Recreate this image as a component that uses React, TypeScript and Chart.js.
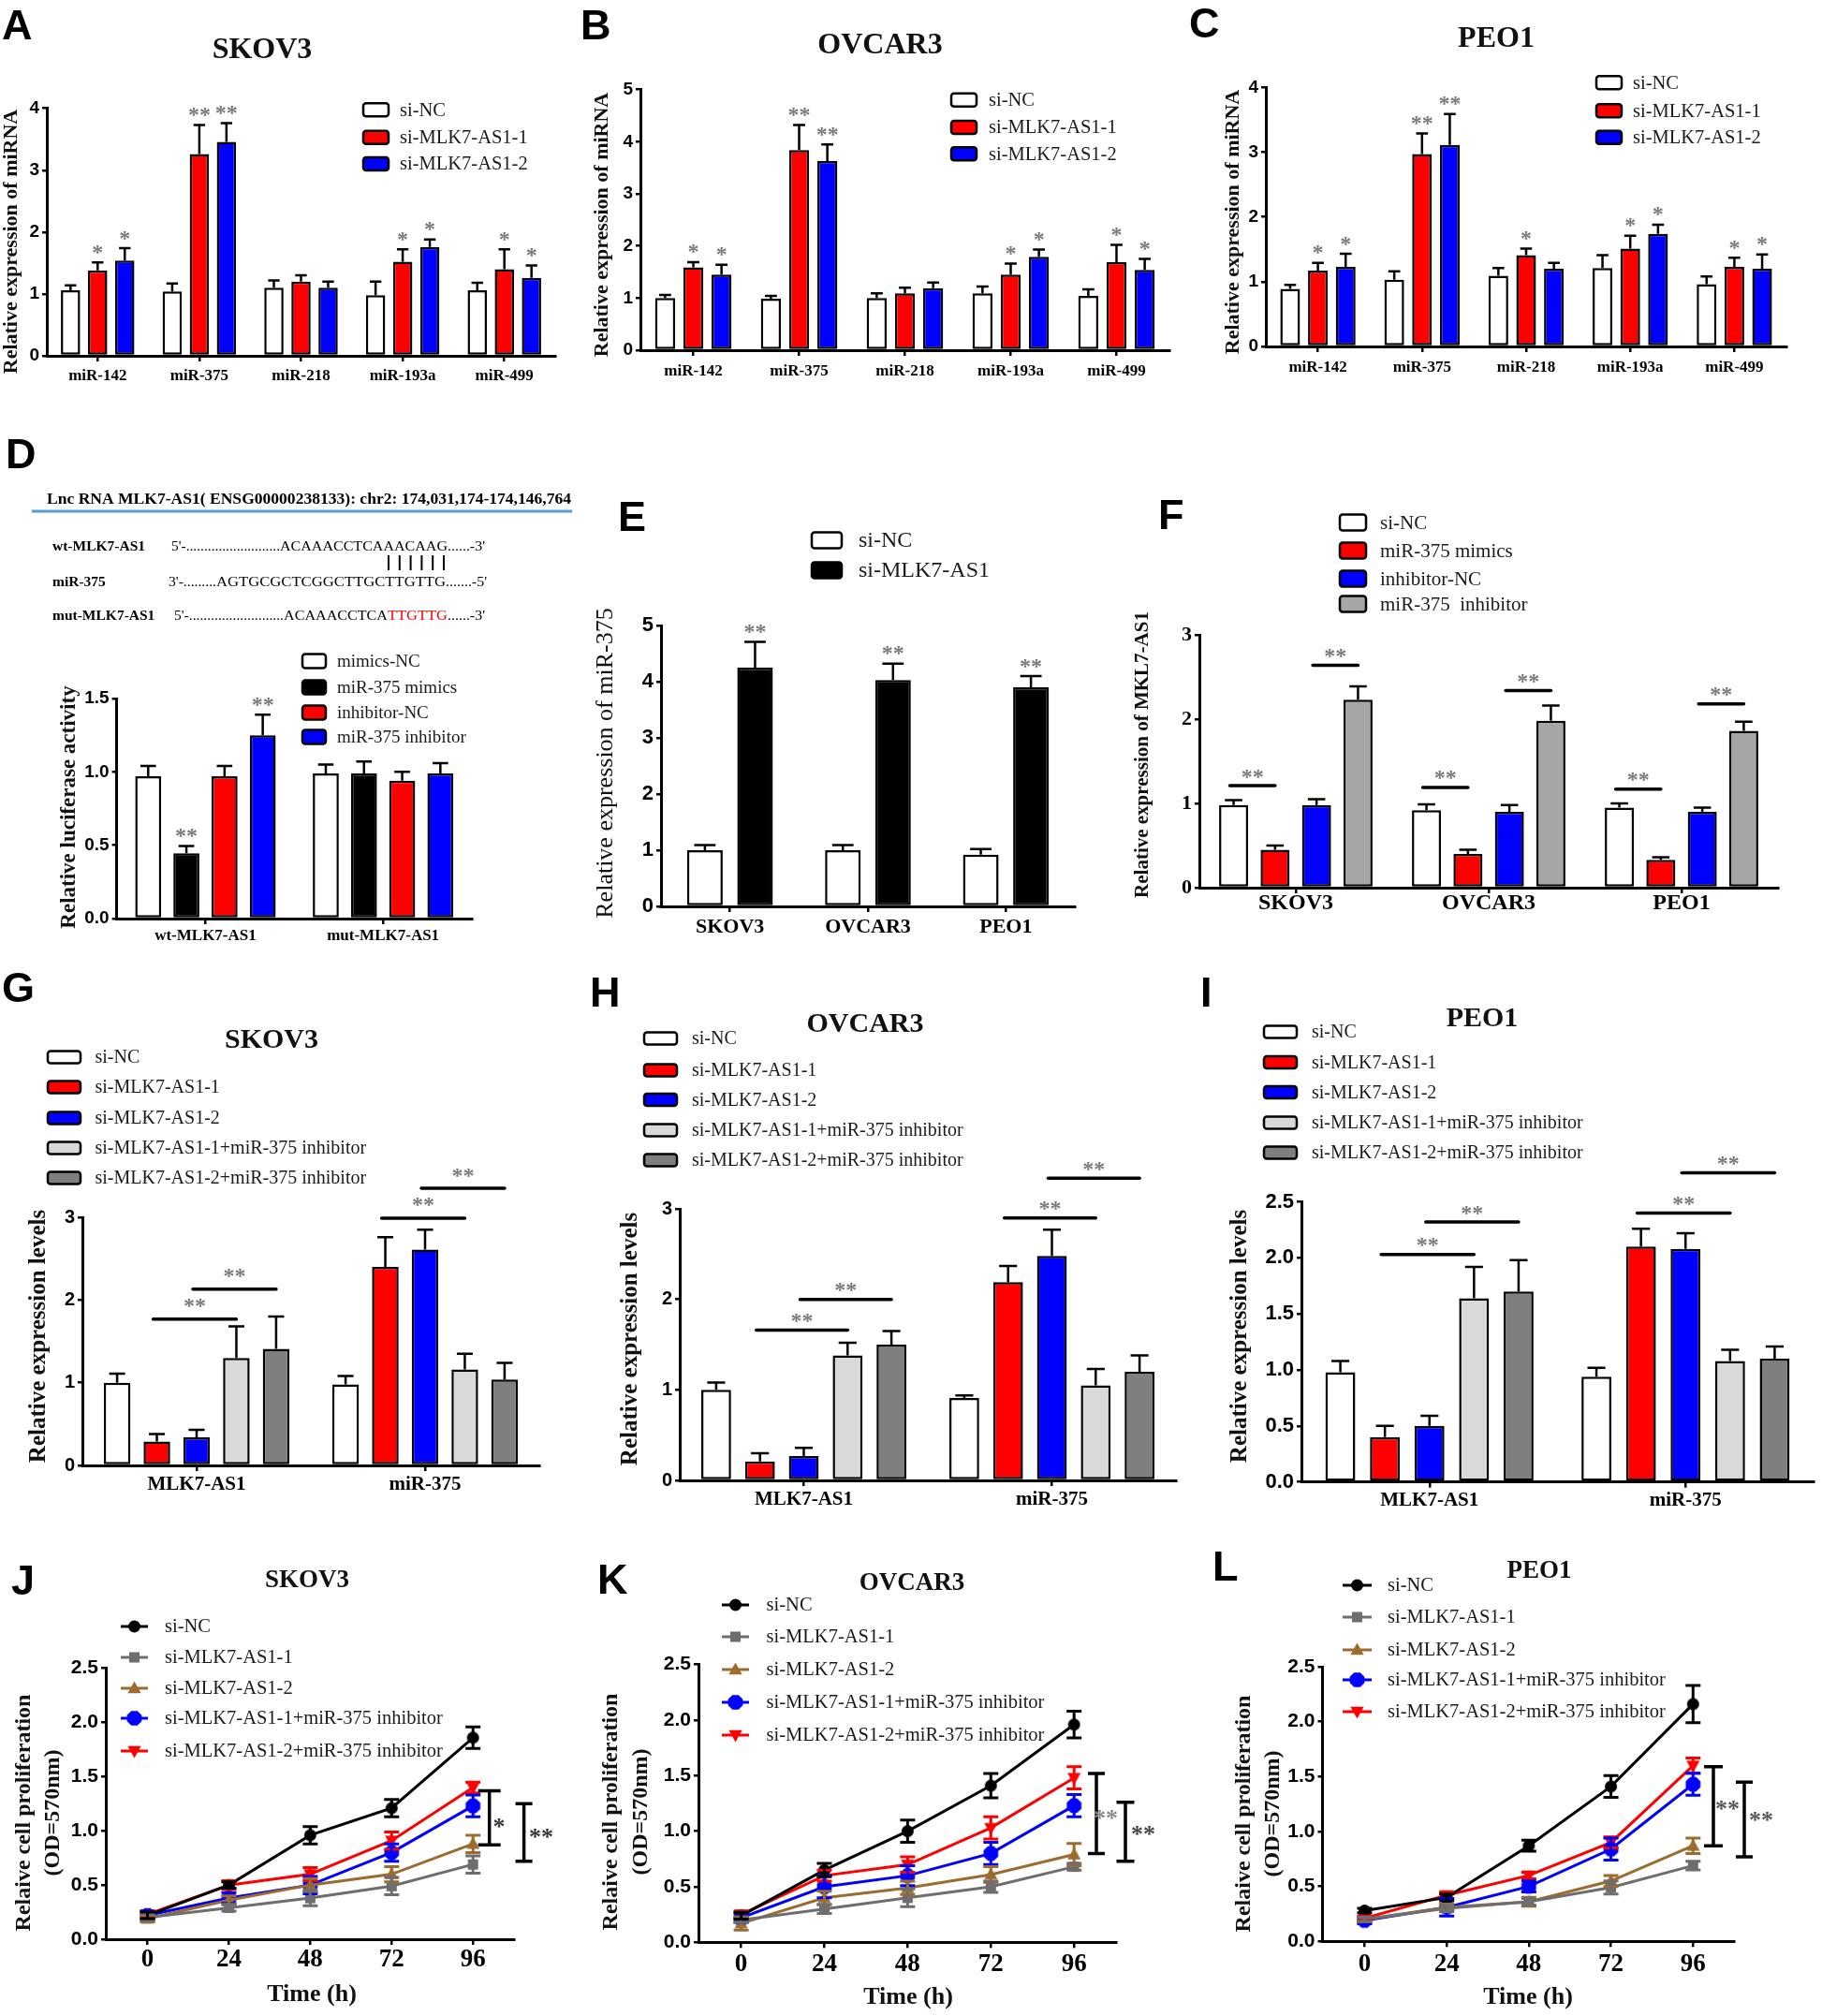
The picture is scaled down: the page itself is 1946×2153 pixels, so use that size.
import React, { useEffect, useRef } from 'react';
import { Chart, registerables } from 'chart.js';

Chart.register(...registerables);

/* =================== DATA =================== */
const miRNAs = ['miR-142', 'miR-375', 'miR-218', 'miR-193a', 'miR-499'];
const siLegend3 = ['si-NC', 'si-MLK7-AS1-1', 'si-MLK7-AS1-2'];
const ticks0to4 = [0, 1, 2, 3, 4];
const ticks0to5 = [0, 1, 2, 3, 4, 5];
const ticks0to3 = [0, 1, 2, 3];
const ticksLuc = [0, 0.5, 1.0, 1.5];
const ticks0to25 = [0, 0.5, 1.0, 1.5, 2.0, 2.5];
const timePoints = [0, 24, 48, 72, 96];

// A  SKOV3
const aSiNC = [1.06, 1.04, 1.1, 0.98, 1.06];
const aSiNCErr = [0.08, 0.13, 0.12, 0.22, 0.12];
const aSi1 = [1.38, 3.26, 1.2, 1.52, 1.4];
const aSi1Err = [0.13, 0.47, 0.1, 0.2, 0.32];
const aSi2 = [1.54, 3.46, 1.1, 1.76, 1.26];
const aSi2Err = [0.2, 0.3, 0.1, 0.12, 0.2];
const aSi1Stars = ['*', '**', '', '*', '*'];
const aSi2Stars = ['*', '**', '', '*', '*'];
// B  OVCAR3
const bSiNC = [1.0, 0.99, 1.0, 1.09, 1.04];
const bSiNCErr = [0.06, 0.05, 0.09, 0.13, 0.13];
const bSi1 = [1.59, 3.84, 1.09, 1.45, 1.69];
const bSi1Err = [0.1, 0.48, 0.11, 0.21, 0.33];
const bSi2 = [1.45, 3.63, 1.19, 1.79, 1.54];
const bSi2Err = [0.19, 0.32, 0.11, 0.14, 0.21];
const bSi1Stars = ['*', '**', '', '*', '*'];
const bSi2Stars = ['*', '**', '', '*', '*'];
// C  PEO1
const cSiNC = [0.89, 1.03, 1.09, 1.21, 0.96];
const cSiNCErr = [0.06, 0.13, 0.12, 0.2, 0.12];
const cSi1 = [1.17, 2.97, 1.41, 1.51, 1.23];
const cSi1Err = [0.12, 0.32, 0.1, 0.2, 0.14];
const cSi2 = [1.23, 3.11, 1.2, 1.74, 1.2];
const cSi2Err = [0.2, 0.48, 0.09, 0.14, 0.22];
const cSi1Stars = ['*', '**', '*', '*', '*'];
const cSi2Stars = ['*', '**', '', '*', '*'];

// D  luciferase
const dHeader = 'Lnc RNA MLK7-AS1( ENSG00000238133): chr2: 174,031,174-174,146,764';
const seqRowLabels = ['wt-MLK7-AS1', 'miR-375', 'mut-MLK7-AS1'];
const wtSeqParts = ["5'-..........................", 'ACAAACCTCAAACAAG', "......-3'"];
const mirSeqParts = ["3'-.........", 'AGTGCGCTCGGCTTGCTTGTTG', ".......-5'"];
const mutSeqParts = ["5'-..........................", 'ACAAACCTCA', 'TTGTTG', "......-3'"];
const lucConstructs = ['wt-MLK7-AS1', 'mut-MLK7-AS1'];
const lucLegend = ['mimics-NC', 'miR-375 mimics', 'inhibitor-NC', 'miR-375 inhibitor'];
const dMimicsNC = [0.97, 0.99];
const dMimicsNCErr = [0.07, 0.06];
const dMimics = [0.445, 0.99];
const dMimicsErr = [0.05, 0.08];
const dInhNC = [0.97, 0.94];
const dInhNCErr = [0.07, 0.06];
const dInh = [1.25, 0.99];
const dInhErr = [0.14, 0.07];
const dMimicsStars = ['**', ''];
const dInhStars = ['**', ''];

// E
const cellLines = ['SKOV3', 'OVCAR3', 'PEO1'];
const eLegend = ['si-NC', 'si-MLK7-AS1'];
const eSiNC = [1.0, 1.0, 0.92];
const eSiNCErr = [0.09, 0.09, 0.1];
const eSi = [4.25, 4.03, 3.9];
const eSiErr = [0.46, 0.29, 0.2];
const eSiStars = ['**', '**', '**'];

// F
const fLegend = ['si-NC', 'miR-375 mimics', 'inhibitor-NC', 'miR-375  inhibitor'];
const fSiNC = [0.98, 0.92, 0.95];
const fSiNCErr = [0.06, 0.07, 0.05];
const fMimics = [0.45, 0.4, 0.33];
const fMimicsErr = [0.05, 0.05, 0.03];
const fInhNC = [0.98, 0.9, 0.9];
const fInhNCErr = [0.07, 0.08, 0.05];
const fInh = [2.23, 1.98, 1.86];
const fInhErr = [0.16, 0.18, 0.11];
const fSigLow = [1.21, 1.19, 1.17];
const fSigHigh = [2.64, 2.34, 2.18];

// G / H / I rescue
const targets = ['MLK7-AS1', 'miR-375'];
const rescueLegend = ['si-NC', 'si-MLK7-AS1-1', 'si-MLK7-AS1-2', 'si-MLK7-AS1-1+miR-375 inhibitor', 'si-MLK7-AS1-2+miR-375 inhibitor'];
const gSiNC = [1.0, 0.98];
const gSiNCErr = [0.11, 0.1];
const gSi1 = [0.29, 2.4];
const gSi1Err = [0.09, 0.36];
const gSi2 = [0.34, 2.61];
const gSi2Err = [0.09, 0.24];
const gSi1Inh = [1.3, 1.16];
const gSi1InhErr = [0.38, 0.19];
const gSi2Inh = [1.41, 1.04];
const gSi2InhErr = [0.39, 0.2];
const gSigLevels = [1.77, 2.13, 2.99, 3.35];

const hSiNC = [1.0, 0.91];
const hSiNCErr = [0.08, 0.03];
const hSi1 = [0.21, 2.19];
const hSi1Err = [0.09, 0.18];
const hSi2 = [0.27, 2.48];
const hSi2Err = [0.09, 0.29];
const hSi1Inh = [1.38, 1.05];
const hSi1InhErr = [0.14, 0.18];
const hSi2Inh = [1.5, 1.2];
const hSi2InhErr = [0.15, 0.18];
const hSigLevels = [1.66, 2.0, 2.9, 3.34];

const iSiNC = [0.98, 0.94];
const iSiNCErr = [0.1, 0.08];
const iSi1 = [0.4, 2.1];
const iSi1Err = [0.1, 0.16];
const iSi2 = [0.5, 2.08];
const iSi2Err = [0.09, 0.14];
const iSi1Inh = [1.64, 1.08];
const iSi1InhErr = [0.28, 0.1];
const iSi2Inh = [1.7, 1.1];
const iSi2InhErr = [0.28, 0.11];
const iSigLevels = [2.03, 2.32, 2.4, 2.76];

// J / K / L proliferation
const lineLegend = ['si-NC', 'si-MLK7-AS1-1', 'si-MLK7-AS1-2', 'si-MLK7-AS1-1+miR-375 inhibitor', 'si-MLK7-AS1-2+miR-375 inhibitor'];
const jSiNC = [0.22, 0.5, 0.96, 1.21, 1.86];
const jSiNCErr = [0.03, 0.03, 0.08, 0.08, 0.1];
const jSi1 = [0.2, 0.29, 0.38, 0.49, 0.69];
const jSi1Err = [0.03, 0.03, 0.07, 0.08, 0.08];
const jSi2 = [0.19, 0.36, 0.5, 0.6, 0.88];
const jSi2Err = [0.03, 0.04, 0.06, 0.07, 0.08];
const jSi1Inh = [0.22, 0.38, 0.5, 0.8, 1.23];
const jSi1InhErr = [0.04, 0.05, 0.08, 0.08, 0.1];
const jSi2Inh = [0.23, 0.5, 0.6, 0.91, 1.4];
const jSi2InhErr = [0.03, 0.04, 0.06, 0.08, 0.05];
const jBrackets = [[1.37, 0.87], [1.25, 0.72]];
const jBracketLabels = ['*', '**'];

const kSiNC = [0.24, 0.65, 1.0, 1.41, 1.96];
const kSiNCErr = [0.03, 0.06, 0.1, 0.11, 0.12];
const kSi1 = [0.2, 0.3, 0.4, 0.5, 0.68];
const kSi1Err = [0.02, 0.04, 0.08, 0.05, 0.03];
const kSi2 = [0.17, 0.4, 0.49, 0.61, 0.79];
const kSi2Err = [0.06, 0.06, 0.06, 0.07, 0.1];
const kSi1Inh = [0.22, 0.5, 0.6, 0.8, 1.23];
const kSi1InhErr = [0.04, 0.1, 0.09, 0.1, 0.1];
const kSi2Inh = [0.25, 0.6, 0.7, 1.03, 1.48];
const kSi2InhErr = [0.03, 0.05, 0.07, 0.1, 0.1];
const kBrackets = [[1.52, 0.8], [1.26, 0.73]];
const kBracketLabels = ['**', '**'];

const lSiNC = [0.28, 0.4, 0.87, 1.41, 2.16];
const lSiNCErr = [0.02, 0.03, 0.05, 0.1, 0.17];
const lSi1 = [0.2, 0.3, 0.36, 0.49, 0.69];
const lSi1Err = [0.02, 0.03, 0.03, 0.06, 0.04];
const lSi2 = [0.2, 0.31, 0.36, 0.55, 0.87];
const lSi2Err = [0.02, 0.03, 0.04, 0.05, 0.07];
const lSi1Inh = [0.19, 0.31, 0.5, 0.84, 1.43];
const lSi1InhErr = [0.03, 0.08, 0.05, 0.1, 0.1];
const lSi2Inh = [0.21, 0.42, 0.6, 0.9, 1.6];
const lSi2InhErr = [0.02, 0.03, 0.03, 0.05, 0.07];
const lBrackets = [[1.59, 0.87], [1.45, 0.77]];
const lBracketLabels = ['**', '**'];

/* =================== STYLE =================== */
const SERIF = '"Liberation Serif", "Times New Roman", Times, serif';
const SANS = '"Liberation Sans", Arial, Helvetica, sans-serif';
const NARROW = '"Liberation Sans Narrow", "Arial Narrow", "Liberation Sans", Arial, sans-serif';
const WHITE = '#ffffff';
const RED = '#ff0000';
const BLUE = '#0000ff';
const BLACK = '#000000';
const MIDGRAY = '#a6a6a6';
const LIGHTGRAY = '#d9d9d9';
const DARKGRAY = '#7f7f7f';
const LINEGRAY = '#6e6e6e';
const BROWN = '#9c6b2e';
const STAR_GRAY = '#7a7a7a';
const TEXT = '#1a1a1a';

Chart.defaults.font.family = SERIF;

const css = (f: any) => `${f.weight || 'normal'} ${f.size}px ${f.family}`;

function glyphText(ctx: any, s: string, x: number, cy: number, font: string, color: string, align = 'center') {
  ctx.save();
  ctx.font = font;
  ctx.fillStyle = color;
  ctx.textAlign = align;
  ctx.textBaseline = 'alphabetic';
  const m = ctx.measureText(s);
  ctx.fillText(s, x, cy + (m.actualBoundingBoxAscent - m.actualBoundingBoxDescent) / 2);
  ctx.restore();
}

function vText(ctx: any, s: string, cx: number, cy: number, font: string, color: string) {
  ctx.save();
  ctx.translate(cx, cy);
  ctx.rotate(-Math.PI / 2);
  ctx.font = font;
  ctx.fillStyle = color;
  ctx.textAlign = 'center';
  ctx.textBaseline = 'middle';
  ctx.fillText(s, 0, 0);
  ctx.restore();
}

function fitText(ctx: any, s: string, x: number, y: number, w: number, font: string, color: string) {
  ctx.save();
  ctx.font = font;
  ctx.fillStyle = color;
  ctx.textAlign = 'left';
  ctx.textBaseline = 'alphabetic';
  const nat = ctx.measureText(s).width || 1;
  ctx.translate(x, y);
  ctx.scale(w / nat, 1);
  ctx.fillText(s, 0, 0);
  ctx.restore();
}

function markerPath(ctx: any, style: string, x: number, y: number, r: number) {
  ctx.beginPath();
  if (style === 'circle') ctx.arc(x, y, r, 0, Math.PI * 2);
  else if (style === 'square') ctx.rect(x - r * 0.85, y - r * 0.85, r * 1.7, r * 1.7);
  else if (style === 'tri') {
    ctx.moveTo(x, y - r);
    ctx.lineTo(x + r * 0.95, y + r * 0.7);
    ctx.lineTo(x - r * 0.95, y + r * 0.7);
    ctx.closePath();
  } else if (style === 'triDown') {
    ctx.moveTo(x, y + r);
    ctx.lineTo(x + r * 0.95, y - r * 0.7);
    ctx.lineTo(x - r * 0.95, y - r * 0.7);
    ctx.closePath();
  } else {
    for (let k = 0; k < 8; k++) {
      const a = Math.PI / 8 + (k * Math.PI) / 4;
      const px = x + r * Math.cos(a);
      const py = y + r * Math.sin(a);
      if (k === 0) ctx.moveTo(px, py);
      else ctx.lineTo(px, py);
    }
    ctx.closePath();
  }
}

const MARKER_R: any = { circle: 6.5, square: 6.5, tri: 7.5, oct: 8.5, triDown: 7.5 };

function makeMarker(style: string, color: string) {
  const r = MARKER_R[style];
  const c = document.createElement('canvas');
  const size = Math.ceil(2 * r + 2);
  c.width = size;
  c.height = size;
  const ctx = c.getContext('2d') as any;
  ctx.fillStyle = color;
  markerPath(ctx, style, size / 2, size / 2, r);
  ctx.fill();
  return c;
}

function drawCommon(ctx: any, s: any, X: any, Y: any) {
  if (s.letter) {
    ctx.save();
    ctx.font = `bold 45px ${SANS}`;
    ctx.fillStyle = '#000';
    ctx.textAlign = 'left';
    ctx.textBaseline = 'alphabetic';
    ctx.fillText(s.letter[0], X(s.letter[1]), Y(s.letter[2]));
    ctx.restore();
  }
  if (s.title) {
    ctx.save();
    ctx.font = `bold ${s.title[3]}px ${SERIF}`;
    ctx.fillStyle = '#111';
    ctx.textAlign = 'center';
    ctx.textBaseline = 'alphabetic';
    ctx.fillText(s.title[0], X(s.title[1]), Y(s.title[2]));
    ctx.restore();
  }
  if (s.ytitle) {
    s.ytitle.lines.forEach((ln: string, i: number) => vText(ctx, ln, X(s.ytitle.xs[i]), Y(s.ytitle.y), css(s.ytitle.font), '#111'));
  }
  if (s.xtitle) {
    ctx.save();
    ctx.font = `bold ${s.xtitle[3]}px ${SERIF}`;
    ctx.fillStyle = '#111';
    ctx.textAlign = 'center';
    ctx.textBaseline = 'middle';
    ctx.fillText(s.xtitle[0], X(s.xtitle[1]), Y(s.xtitle[2]));
    ctx.restore();
  }
}

// axis boxes take all of the room between the canvas edge and the plot area,
// so that Chart.js' own tick labels are not clipped away
const EDGE = 2;
function yAxisWidth(s: any) {
  return s.area.l - s.rect.left - EDGE;
}
function xAxisHeight(s: any) {
  return s.rect.top + s.rect.height - s.area.b - EDGE;
}

function yScale(s: any) {
  const ticks = s.yTicks;
  const w = yAxisWidth(s);
  return {
    type: 'linear',
    min: ticks[0],
    max: ticks[ticks.length - 1],
    afterBuildTicks: (sc: any) => {
      sc.ticks = ticks.map((v: number) => ({ value: v }));
    },
    afterFit: (sc: any) => {
      sc.width = w;
      sc.paddingTop = 0;
      sc.paddingBottom = 0;
      sc.paddingLeft = 0;
      sc.paddingRight = 0;
    },
    grid: { display: true, drawOnChartArea: false, drawTicks: true, tickLength: 5, color: '#000', lineWidth: 2.5 },
    border: { display: true, color: '#000', width: 3 },
    ticks: { color: '#000', font: s.yTickFont, padding: 3, callback: (v: any) => Number(v).toFixed(s.yDec) },
  };
}

function xAxisCommon(s: any, pad: number) {
  const h = xAxisHeight(s);
  return {
    afterFit: (sc: any) => {
      sc.height = h;
      sc.paddingTop = 0;
      sc.paddingBottom = 0;
      sc.paddingLeft = 0;
      sc.paddingRight = 0;
    },
    grid: { display: true, offset: false, drawOnChartArea: false, drawTicks: true, tickLength: 6, color: '#000', lineWidth: 2.5 },
    border: { display: true, color: '#000', width: 3 },
    ticks: { color: '#000', font: s.xFont, padding: pad, maxRotation: 0, minRotation: 0, autoSkip: false },
  };
}

function paddingFor(rect: any, area: any) {
  return {
    left: EDGE,
    top: area.t - rect.top,
    right: rect.left + rect.width - area.r,
    bottom: EDGE,
  };
}

const STAR_FONT = `bold 24px ${SERIF}`;

function barChart(canvas: HTMLCanvasElement, s: any) {
  const { rect, area } = s;
  const X = (x: number) => x - rect.left;
  const Y = (y: number) => y - rect.top;
  const xPad = s.xLabelY - area.b - 6 - 0.6 * s.xFont.size;
  const plugin = {
    id: 'decoBar',
    afterDraw(chart: any) {
      const ctx = chart.ctx;
      const ys = chart.scales.y;
      ctx.save();
      chart.data.datasets.forEach((ds: any, i: number) => {
        const meta = chart.getDatasetMeta(i);
        meta.data.forEach((el: any, j: number) => {
          const yt = ys.getPixelForValue(ds.data[j] + ds.errs[j]);
          const hw = el.width * 0.3;
          ctx.strokeStyle = '#000';
          ctx.lineWidth = 2.5;
          ctx.beginPath();
          ctx.moveTo(el.x, el.y);
          ctx.lineTo(el.x, yt);
          ctx.moveTo(el.x - hw, yt);
          ctx.lineTo(el.x + hw, yt);
          ctx.stroke();
          const st = ds.stars && ds.stars[j];
          if (st) glyphText(ctx, st, el.x, yt - 14, STAR_FONT, STAR_GRAY);
        });
      });
      (s.sig || []).forEach((g: any) => {
        const e1 = chart.getDatasetMeta(g.a).data[g.cat];
        const e2 = chart.getDatasetMeta(g.b).data[g.cat];
        const y = ys.getPixelForValue(g.v);
        ctx.strokeStyle = '#000';
        ctx.lineWidth = 3.5;
        ctx.lineCap = 'round';
        ctx.beginPath();
        ctx.moveTo(e1.x - 4, y);
        ctx.lineTo(e2.x, y);
        ctx.stroke();
        glyphText(ctx, g.label, (e1.x + e2.x) / 2 - 2, y - s.sigGap, STAR_FONT, STAR_GRAY);
      });
      const L = s.legend;
      s.series.forEach((se: any, i: number) => {
        const cy = Y(L.rows[i]);
        ctx.fillStyle = se.color;
        ctx.strokeStyle = '#000';
        ctx.lineWidth = 2.5;
        ctx.beginPath();
        if (ctx.roundRect) ctx.roundRect(X(L.x), cy - L.h / 2, L.w, L.h, 3);
        else ctx.rect(X(L.x), cy - L.h / 2, L.w, L.h);
        ctx.fill();
        ctx.stroke();
        ctx.font = css(L.font);
        ctx.fillStyle = TEXT;
        ctx.textAlign = 'left';
        ctx.textBaseline = 'middle';
        ctx.fillText(se.label, X(L.textX), cy + 1);
      });
      drawCommon(ctx, s, X, Y);
      if (s.extra) s.extra(ctx, X, Y);
      ctx.restore();
    },
  };
  return new Chart(canvas, {
    type: 'bar',
    data: {
      labels: s.labels,
      datasets: s.series.map((se: any) => ({
        label: se.label,
        data: se.data,
        errs: se.errs,
        stars: se.stars,
        backgroundColor: se.color,
        borderColor: '#000',
        borderWidth: 2.5,
        borderSkipped: false,
        categoryPercentage: s.catPct,
        barPercentage: s.barPct,
      })),
    },
    options: {
      responsive: false,
      animation: false,
      devicePixelRatio: 1,
      events: [],
      layout: { padding: paddingFor(rect, area) },
      plugins: { legend: { display: false }, tooltip: { enabled: false }, title: { display: false } },
      scales: {
        x: { type: 'category', offset: true, ...xAxisCommon(s, xPad) },
        y: yScale(s),
      },
    } as any,
    plugins: [plugin],
  } as any);
}

function lineChart(canvas: HTMLCanvasElement, s: any) {
  const { rect, area } = s;
  const X = (x: number) => x - rect.left;
  const Y = (y: number) => y - rect.top;
  const xPad = s.xLabelY - area.b - 6 - 0.6 * s.xFont.size;
  const plugin = {
    id: 'decoLine',
    afterDatasetsDraw(chart: any) {
      const ctx = chart.ctx;
      const xs = chart.scales.x;
      const ys = chart.scales.y;
      ctx.save();
      for (let i = chart.data.datasets.length - 1; i >= 0; i--) {
        const ds = chart.data.datasets[i];
        ctx.strokeStyle = ds.borderColor;
        ctx.lineWidth = 3;
        ds.data.forEach((p: any, j: number) => {
          const x = xs.getPixelForValue(p.x);
          const yt = ys.getPixelForValue(p.y + ds.errs[j]);
          const yb = ys.getPixelForValue(p.y - ds.errs[j]);
          ctx.beginPath();
          ctx.moveTo(x, yt);
          ctx.lineTo(x, yb);
          ctx.moveTo(x - 8, yt);
          ctx.lineTo(x + 8, yt);
          ctx.moveTo(x - 8, yb);
          ctx.lineTo(x + 8, yb);
          ctx.stroke();
        });
      }
      ctx.restore();
    },
    afterDraw(chart: any) {
      const ctx = chart.ctx;
      const ys = chart.scales.y;
      ctx.save();
      const L = s.legend;
      s.series.forEach((se: any, i: number) => {
        const cy = Y(L.rows[i]);
        ctx.strokeStyle = se.color;
        ctx.lineWidth = 3;
        ctx.beginPath();
        ctx.moveTo(X(L.x1), cy);
        ctx.lineTo(X(L.x2), cy);
        ctx.stroke();
        ctx.fillStyle = se.color;
        markerPath(ctx, se.marker, (X(L.x1) + X(L.x2)) / 2, cy, MARKER_R[se.marker]);
        ctx.fill();
        ctx.font = css(L.font);
        ctx.fillStyle = TEXT;
        ctx.textAlign = 'left';
        ctx.textBaseline = 'middle';
        ctx.fillText(se.label, X(L.textX), cy + 1);
      });
      s.brackets.forEach((b: any) => {
        const x = X(b.x);
        const yt = ys.getPixelForValue(b.v[0]);
        const yb = ys.getPixelForValue(b.v[1]);
        ctx.strokeStyle = '#000';
        ctx.lineWidth = 3.5;
        ctx.beginPath();
        ctx.moveTo(x, yt);
        ctx.lineTo(x, yb);
        ctx.moveTo(x - b.hw, yt);
        ctx.lineTo(x + b.hw, yt);
        ctx.moveTo(x - b.hw, yb);
        ctx.lineTo(x + b.hw, yb);
        ctx.stroke();
        glyphText(ctx, b.label, X(b.lx), Y(b.ly), `bold 26px ${SERIF}`, b.color);
      });
      drawCommon(ctx, s, X, Y);
      ctx.restore();
    },
  };
  return new Chart(canvas, {
    type: 'line',
    data: {
      datasets: s.series.map((se: any) => ({
        label: se.label,
        data: se.data.map((v: number, i: number) => ({ x: timePoints[i], y: v })),
        errs: se.errs,
        borderColor: se.color,
        backgroundColor: se.color,
        borderWidth: 3,
        tension: 0,
        fill: false,
        pointStyle: makeMarker(se.marker, se.color),
        pointRadius: 7,
        pointHoverRadius: 7,
      })),
    },
    options: {
      responsive: false,
      animation: false,
      devicePixelRatio: 1,
      events: [],
      layout: { padding: paddingFor(rect, area) },
      plugins: { legend: { display: false }, tooltip: { enabled: false }, title: { display: false } },
      scales: {
        x: {
          type: 'linear',
          min: s.xMin,
          max: s.xMax,
          afterBuildTicks: (sc: any) => {
            sc.ticks = timePoints.map((v) => ({ value: v }));
          },
          ...xAxisCommon(s, xPad),
        },
        y: yScale(s),
      },
    } as any,
    plugins: [plugin],
  } as any);
}

function drawDText(ctx: any, X: any, Y: any) {
  ctx.save();
  fitText(ctx, dHeader, X(50), Y(538), 560, `bold 17px ${SERIF}`, '#000');
  ctx.strokeStyle = '#5b9bd5';
  ctx.lineWidth = 3;
  ctx.beginPath();
  ctx.moveTo(X(34), Y(546));
  ctx.lineTo(X(611), Y(546));
  ctx.stroke();
  const rowsY = [588, 626, 662];
  seqRowLabels.forEach((lb, i) => {
    ctx.font = `bold 15.5px ${SERIF}`;
    ctx.fillStyle = '#000';
    ctx.textAlign = 'left';
    ctx.textBaseline = 'alphabetic';
    ctx.fillText(lb, X(56), Y(rowsY[i]));
  });
  const rows = [
    { parts: wtSeqParts, xs: [183, 299, 478, 518], colors: ['#000', '#000', '#000'] },
    { parts: mirSeqParts, xs: [180, 231, 476, 520], colors: ['#000', '#000', '#000'] },
    { parts: mutSeqParts, xs: [186, 303, 414, 478, 518], colors: ['#000', '#000', '#ff0000', '#000'] },
  ];
  rows.forEach((r, i) =>
    r.parts.forEach((p, k) => fitText(ctx, p, X(r.xs[k]), Y(rowsY[i]), r.xs[k + 1] - r.xs[k], `15.5px ${SERIF}`, r.colors[k]))
  );
  ctx.strokeStyle = '#000';
  ctx.lineWidth = 2;
  for (let k = 0; k < 6; k++) {
    const x = X(415 + k * 11.8);
    ctx.beginPath();
    ctx.moveTo(x, Y(593));
    ctx.lineTo(x, Y(609));
    ctx.stroke();
  }
  ctx.restore();
}

/* =================== PANEL SPECS =================== */
const tickSans = (size: number) => ({ family: NARROW, size, weight: 'bold' });
const serifB = (size: number) => ({ family: SERIF, size, weight: 'bold' });
const serifN = (size: number) => ({ family: SERIF, size, weight: 'normal' });

const abcCommon = { yDec: 0, yTickFont: tickSans(19), xFont: serifB(17), catPct: 0.8, barPct: 0.71 };

const specA = {
  ...abcCommon,
  rect: { left: 0, top: 0, width: 625, height: 430 },
  area: { l: 50, t: 115.7, r: 593, b: 380 },
  labels: miRNAs,
  series: [
    { label: siLegend3[0], data: aSiNC, errs: aSiNCErr, color: WHITE },
    { label: siLegend3[1], data: aSi1, errs: aSi1Err, color: RED, stars: aSi1Stars },
    { label: siLegend3[2], data: aSi2, errs: aSi2Err, color: BLUE, stars: aSi2Stars },
  ],
  yTicks: ticks0to4,
  xLabelY: 402,
  legend: { x: 388, w: 27, h: 14, textX: 427, rows: [117.3, 146.7, 175], font: serifN(20.5) },
  letter: ['A', 2, 42],
  title: ['SKOV3', 280, 62, 32],
  ytitle: { lines: ['Relative expression of miRNA'], xs: [12], y: 258, font: serifB(22) },
};

const specB = {
  ...abcCommon,
  rect: { left: 615, top: 0, width: 655, height: 430 },
  area: { l: 684, t: 95.7, r: 1249, b: 374 },
  labels: miRNAs,
  series: [
    { label: siLegend3[0], data: bSiNC, errs: bSiNCErr, color: WHITE },
    { label: siLegend3[1], data: bSi1, errs: bSi1Err, color: RED, stars: bSi1Stars },
    { label: siLegend3[2], data: bSi2, errs: bSi2Err, color: BLUE, stars: bSi2Stars },
  ],
  yTicks: ticks0to5,
  xLabelY: 397,
  legend: { x: 1016, w: 27, h: 14, textX: 1056, rows: [106.7, 136, 164.3], font: serifN(20.5) },
  letter: ['B', 620, 42],
  title: ['OVCAR3', 940, 57, 32],
  ytitle: { lines: ['Relative expression of miRNA'], xs: [643], y: 240, font: serifB(22) },
};

const specC = {
  ...abcCommon,
  rect: { left: 1265, top: 0, width: 681, height: 430 },
  area: { l: 1352, t: 93.3, r: 1908, b: 370 },
  labels: miRNAs,
  series: [
    { label: siLegend3[0], data: cSiNC, errs: cSiNCErr, color: WHITE },
    { label: siLegend3[1], data: cSi1, errs: cSi1Err, color: RED, stars: cSi1Stars },
    { label: siLegend3[2], data: cSi2, errs: cSi2Err, color: BLUE, stars: cSi2Stars },
  ],
  yTicks: ticks0to4,
  xLabelY: 393,
  legend: { x: 1705, w: 27, h: 14, textX: 1744, rows: [88.3, 118.3, 146.7], font: serifN(20.5) },
  letter: ['C', 1270, 40],
  title: ['PEO1', 1598, 50, 32],
  ytitle: { lines: ['Relative expression of miRNA'], xs: [1317], y: 237, font: serifB(22) },
};

const specD = {
  rect: { left: 0, top: 450, width: 620, height: 570 },
  area: { l: 124.6, t: 746, r: 504, b: 981 },
  labels: lucConstructs,
  series: [
    { label: lucLegend[0], data: dMimicsNC, errs: dMimicsNCErr, color: WHITE },
    { label: lucLegend[1], data: dMimics, errs: dMimicsErr, color: BLACK, stars: dMimicsStars },
    { label: lucLegend[2], data: dInhNC, errs: dInhNCErr, color: RED },
    { label: lucLegend[3], data: dInh, errs: dInhErr, color: BLUE, stars: dInhStars },
  ],
  yTicks: ticksLuc,
  yDec: 1,
  yTickFont: tickSans(19),
  xFont: serifB(17),
  xLabelY: 1000,
  catPct: 0.86,
  barPct: 0.68,
  legend: { x: 323, w: 25, h: 15, textX: 360, rows: [706, 734, 761, 787], font: serifN(19) },
  letter: ['D', 6, 500],
  ytitle: { lines: ['Relative luciferase activity'], xs: [74], y: 862, font: serifB(23) },
  extra: drawDText,
};

const specE = {
  rect: { left: 620, top: 520, width: 590, height: 490 },
  area: { l: 706, t: 668, r: 1148, b: 968 },
  labels: cellLines,
  series: [
    { label: eLegend[0], data: eSiNC, errs: eSiNCErr, color: WHITE },
    { label: eLegend[1], data: eSi, errs: eSiErr, color: BLACK, stars: eSiStars },
  ],
  yTicks: ticks0to5,
  yDec: 0,
  yTickFont: tickSans(22),
  xFont: serifB(22),
  xLabelY: 990,
  catPct: 0.727,
  barPct: 0.71,
  legend: { x: 867, w: 32, h: 17, textX: 917, rows: [577, 609], font: serifN(24) },
  letter: ['E', 660, 567],
  ytitle: { lines: ['Relative expression of miR-375'], xs: [647], y: 815, font: serifN(26) },
};

const specF = {
  rect: { left: 1200, top: 520, width: 746, height: 490 },
  area: { l: 1281, t: 678, r: 1899, b: 948 },
  labels: cellLines,
  series: [
    { label: fLegend[0], data: fSiNC, errs: fSiNCErr, color: WHITE },
    { label: fLegend[1], data: fMimics, errs: fMimicsErr, color: RED },
    { label: fLegend[2], data: fInhNC, errs: fInhNCErr, color: BLUE },
    { label: fLegend[3], data: fInh, errs: fInhErr, color: MIDGRAY },
  ],
  yTicks: ticks0to3,
  yDec: 0,
  yTickFont: serifB(22),
  xFont: serifB(24),
  xLabelY: 965,
  catPct: 0.86,
  barPct: 0.7,
  legend: { x: 1431, w: 28, h: 17, textX: 1474, rows: [558, 588, 618, 645], font: serifN(21) },
  letter: ['F', 1237, 565],
  ytitle: { lines: ['Relative expression of MKL7-AS1'], xs: [1221], y: 806, font: serifB(21) },
  sig: [0, 1, 2].flatMap((c) => [
    { cat: c, a: 0, b: 1, v: fSigLow[c], label: '**' },
    { cat: c, a: 2, b: 3, v: fSigHigh[c], label: '**' },
  ]),
  sigGap: 13,
};

function rescueSig(levels: number[]) {
  return [
    { cat: 0, a: 1, b: 3, v: levels[0], label: '**' },
    { cat: 0, a: 2, b: 4, v: levels[1], label: '**' },
    { cat: 1, a: 1, b: 3, v: levels[2], label: '**' },
    { cat: 1, a: 2, b: 4, v: levels[3], label: '**' },
  ];
}

function rescueSeries(nc: number[], ncE: number[], s1: number[], s1E: number[], s2: number[], s2E: number[], i1: number[], i1E: number[], i2: number[], i2E: number[]) {
  return [
    { label: rescueLegend[0], data: nc, errs: ncE, color: WHITE },
    { label: rescueLegend[1], data: s1, errs: s1E, color: RED },
    { label: rescueLegend[2], data: s2, errs: s2E, color: BLUE },
    { label: rescueLegend[3], data: i1, errs: i1E, color: LIGHTGRAY },
    { label: rescueLegend[4], data: i2, errs: i2E, color: DARKGRAY },
  ];
}

const specG = {
  rect: { left: 0, top: 1030, width: 620, height: 600 },
  area: { l: 88, t: 1300, r: 576, b: 1565 },
  labels: targets,
  series: rescueSeries(gSiNC, gSiNCErr, gSi1, gSi1Err, gSi2, gSi2Err, gSi1Inh, gSi1InhErr, gSi2Inh, gSi2InhErr),
  yTicks: ticks0to3,
  yDec: 0,
  yTickFont: tickSans(20),
  xFont: serifB(21),
  xLabelY: 1586,
  catPct: 0.87,
  barPct: 0.67,
  legend: { x: 51, w: 35, h: 13, textX: 101.5, rows: [1129, 1161, 1194, 1226, 1258], font: serifN(20) },
  letter: ['G', 2, 1070],
  title: ['SKOV3', 290, 1119, 30],
  ytitle: { lines: ['Relative expression levels'], xs: [42], y: 1427, font: serifB(25) },
  sig: rescueSig(gSigLevels),
  sigGap: 17,
};

const specH = {
  rect: { left: 620, top: 1030, width: 650, height: 600 },
  area: { l: 726, t: 1291, r: 1256, b: 1581 },
  labels: targets,
  series: rescueSeries(hSiNC, hSiNCErr, hSi1, hSi1Err, hSi2, hSi2Err, hSi1Inh, hSi1InhErr, hSi2Inh, hSi2InhErr),
  yTicks: ticks0to3,
  yDec: 0,
  yTickFont: tickSans(20),
  xFont: serifB(21),
  xLabelY: 1602,
  catPct: 0.883,
  barPct: 0.68,
  legend: { x: 688, w: 35, h: 13, textX: 739, rows: [1109, 1143, 1174.5, 1207, 1239], font: serifN(20) },
  letter: ['H', 630, 1075],
  title: ['OVCAR3', 924, 1102, 30],
  ytitle: { lines: ['Relative expression levels'], xs: [674], y: 1430, font: serifB(25) },
  sig: rescueSig(hSigLevels),
  sigGap: 13,
};

const specI = {
  rect: { left: 1270, top: 1030, width: 676, height: 600 },
  area: { l: 1390, t: 1283.5, r: 1937, b: 1582.7 },
  labels: targets,
  series: rescueSeries(iSiNC, iSiNCErr, iSi1, iSi1Err, iSi2, iSi2Err, iSi1Inh, iSi1InhErr, iSi2Inh, iSi2InhErr),
  yTicks: ticks0to25,
  yDec: 1,
  yTickFont: tickSans(22),
  xFont: serifB(21),
  xLabelY: 1603,
  catPct: 0.87,
  barPct: 0.67,
  legend: { x: 1350, w: 35, h: 13, textX: 1401, rows: [1102, 1134.5, 1166.5, 1199, 1231], font: serifN(20) },
  letter: ['I', 1282, 1075],
  title: ['PEO1', 1583, 1096, 30],
  ytitle: { lines: ['Relative expression levels'], xs: [1325], y: 1427, font: serifB(25) },
  sig: rescueSig(iSigLevels),
  sigGap: 13,
};

function prolifSeries(nc: number[], ncE: number[], s1: number[], s1E: number[], s2: number[], s2E: number[], i1: number[], i1E: number[], i2: number[], i2E: number[]) {
  return [
    { label: lineLegend[0], data: nc, errs: ncE, color: BLACK, marker: 'circle' },
    { label: lineLegend[1], data: s1, errs: s1E, color: LINEGRAY, marker: 'square' },
    { label: lineLegend[2], data: s2, errs: s2E, color: BROWN, marker: 'tri' },
    { label: lineLegend[3], data: i1, errs: i1E, color: BLUE, marker: 'oct' },
    { label: lineLegend[4], data: i2, errs: i2E, color: RED, marker: 'triDown' },
  ];
}

const lineCommon = {
  xMin: -12.3,
  xMax: 108.1,
  yTicks: ticks0to25,
  yDec: 1,
  yTickFont: tickSans(21),
  xFont: serifB(27),
};

const specJ = {
  ...lineCommon,
  rect: { left: 0, top: 1640, width: 625, height: 513 },
  area: { l: 113, t: 1781.7, r: 549, b: 2071 },
  series: prolifSeries(jSiNC, jSiNCErr, jSi1, jSi1Err, jSi2, jSi2Err, jSi1Inh, jSi1InhErr, jSi2Inh, jSi2InhErr),
  xLabelY: 2093,
  legend: { x1: 129, x2: 158, textX: 176, rows: [1737, 1770, 1803, 1835, 1870], font: serifN(20.5) },
  letter: ['J', 12, 1703],
  title: ['SKOV3', 328, 1695, 27],
  ytitle: { lines: ['Relaive cell proliferation', '(OD=570nm)'], xs: [26, 57], y: 1936, font: serifB(24) },
  xtitle: ['Time (h)', 333, 2130, 26],
  brackets: [
    { x: 522.7, hw: 12, v: jBrackets[0], label: jBracketLabels[0], lx: 533, ly: 1947, color: '#333' },
    { x: 559.6, hw: 9, v: jBrackets[1], label: jBracketLabels[1], lx: 578, ly: 1958, color: '#333' },
  ],
};

const specK = {
  ...lineCommon,
  rect: { left: 625, top: 1640, width: 650, height: 513 },
  area: { l: 746, t: 1777.7, r: 1192, b: 2074.3 },
  series: prolifSeries(kSiNC, kSiNCErr, kSi1, kSi1Err, kSi2, kSi2Err, kSi1Inh, kSi1InhErr, kSi2Inh, kSi2InhErr),
  xLabelY: 2098,
  legend: { x1: 771, x2: 800, textX: 818.6, rows: [1714, 1748, 1783, 1818, 1853], font: serifN(20.5) },
  letter: ['K', 638, 1702],
  title: ['OVCAR3', 974, 1698, 27],
  ytitle: { lines: ['Relaive cell proliferation', '(OD=570nm)'], xs: [653, 685], y: 1935, font: serifB(24) },
  xtitle: ['Time (h)', 970, 2133, 26],
  brackets: [
    { x: 1171, hw: 9, v: kBrackets[0], label: kBracketLabels[0], lx: 1181, ly: 1938, color: '#888' },
    { x: 1202, hw: 9.5, v: kBrackets[1], label: kBracketLabels[1], lx: 1221, ly: 1955, color: '#444' },
  ],
};

const specL = {
  ...lineCommon,
  rect: { left: 1275, top: 1640, width: 671, height: 513 },
  area: { l: 1412.5, t: 1780, r: 1852.5, b: 2073.3 },
  series: prolifSeries(lSiNC, lSiNCErr, lSi1, lSi1Err, lSi2, lSi2Err, lSi1Inh, lSi1InhErr, lSi2Inh, lSi2InhErr),
  xLabelY: 2098,
  legend: { x1: 1434, x2: 1465, textX: 1482, rows: [1693, 1727, 1762, 1794, 1828], font: serifN(20.5) },
  letter: ['L', 1295, 1688],
  title: ['PEO1', 1644, 1685, 27],
  ytitle: { lines: ['Relaive cell proliferation', '(OD=570nm)'], xs: [1329, 1360], y: 1937, font: serifB(24) },
  xtitle: ['Time (h)', 1632, 2133, 26],
  brackets: [
    { x: 1830, hw: 10, v: lBrackets[0], label: lBracketLabels[0], lx: 1845, ly: 1928, color: '#555' },
    { x: 1863, hw: 9, v: lBrackets[1], label: lBracketLabels[1], lx: 1881, ly: 1940, color: '#555' },
  ],
};

/* =================== COMPONENTS =================== */
function ChartCanvas({ spec, kind }: { spec: any; kind: 'bar' | 'line' }) {
  const ref = useRef<HTMLCanvasElement | null>(null);
  const rect = spec.rect;
  useEffect(() => {
    if (!ref.current) return;
    const chart = kind === 'bar' ? barChart(ref.current, spec) : lineChart(ref.current, spec);
    return () => chart.destroy();
  }, []);
  return (
    <canvas
      ref={ref}
      width={rect.width}
      height={rect.height}
      style={{ position: 'absolute', left: rect.left, top: rect.top, width: rect.width, height: rect.height }}
    />
  );
}

export default function App() {
  return (
    <div style={{ position: 'absolute', left: 0, top: 0, width: 1946, height: 2153, background: '#ffffff', overflow: 'hidden' }}>
      <ChartCanvas spec={specA} kind="bar" />
      <ChartCanvas spec={specB} kind="bar" />
      <ChartCanvas spec={specC} kind="bar" />
      <ChartCanvas spec={specD} kind="bar" />
      <ChartCanvas spec={specE} kind="bar" />
      <ChartCanvas spec={specF} kind="bar" />
      <ChartCanvas spec={specG} kind="bar" />
      <ChartCanvas spec={specH} kind="bar" />
      <ChartCanvas spec={specI} kind="bar" />
      <ChartCanvas spec={specJ} kind="line" />
      <ChartCanvas spec={specK} kind="line" />
      <ChartCanvas spec={specL} kind="line" />
    </div>
  );
}
